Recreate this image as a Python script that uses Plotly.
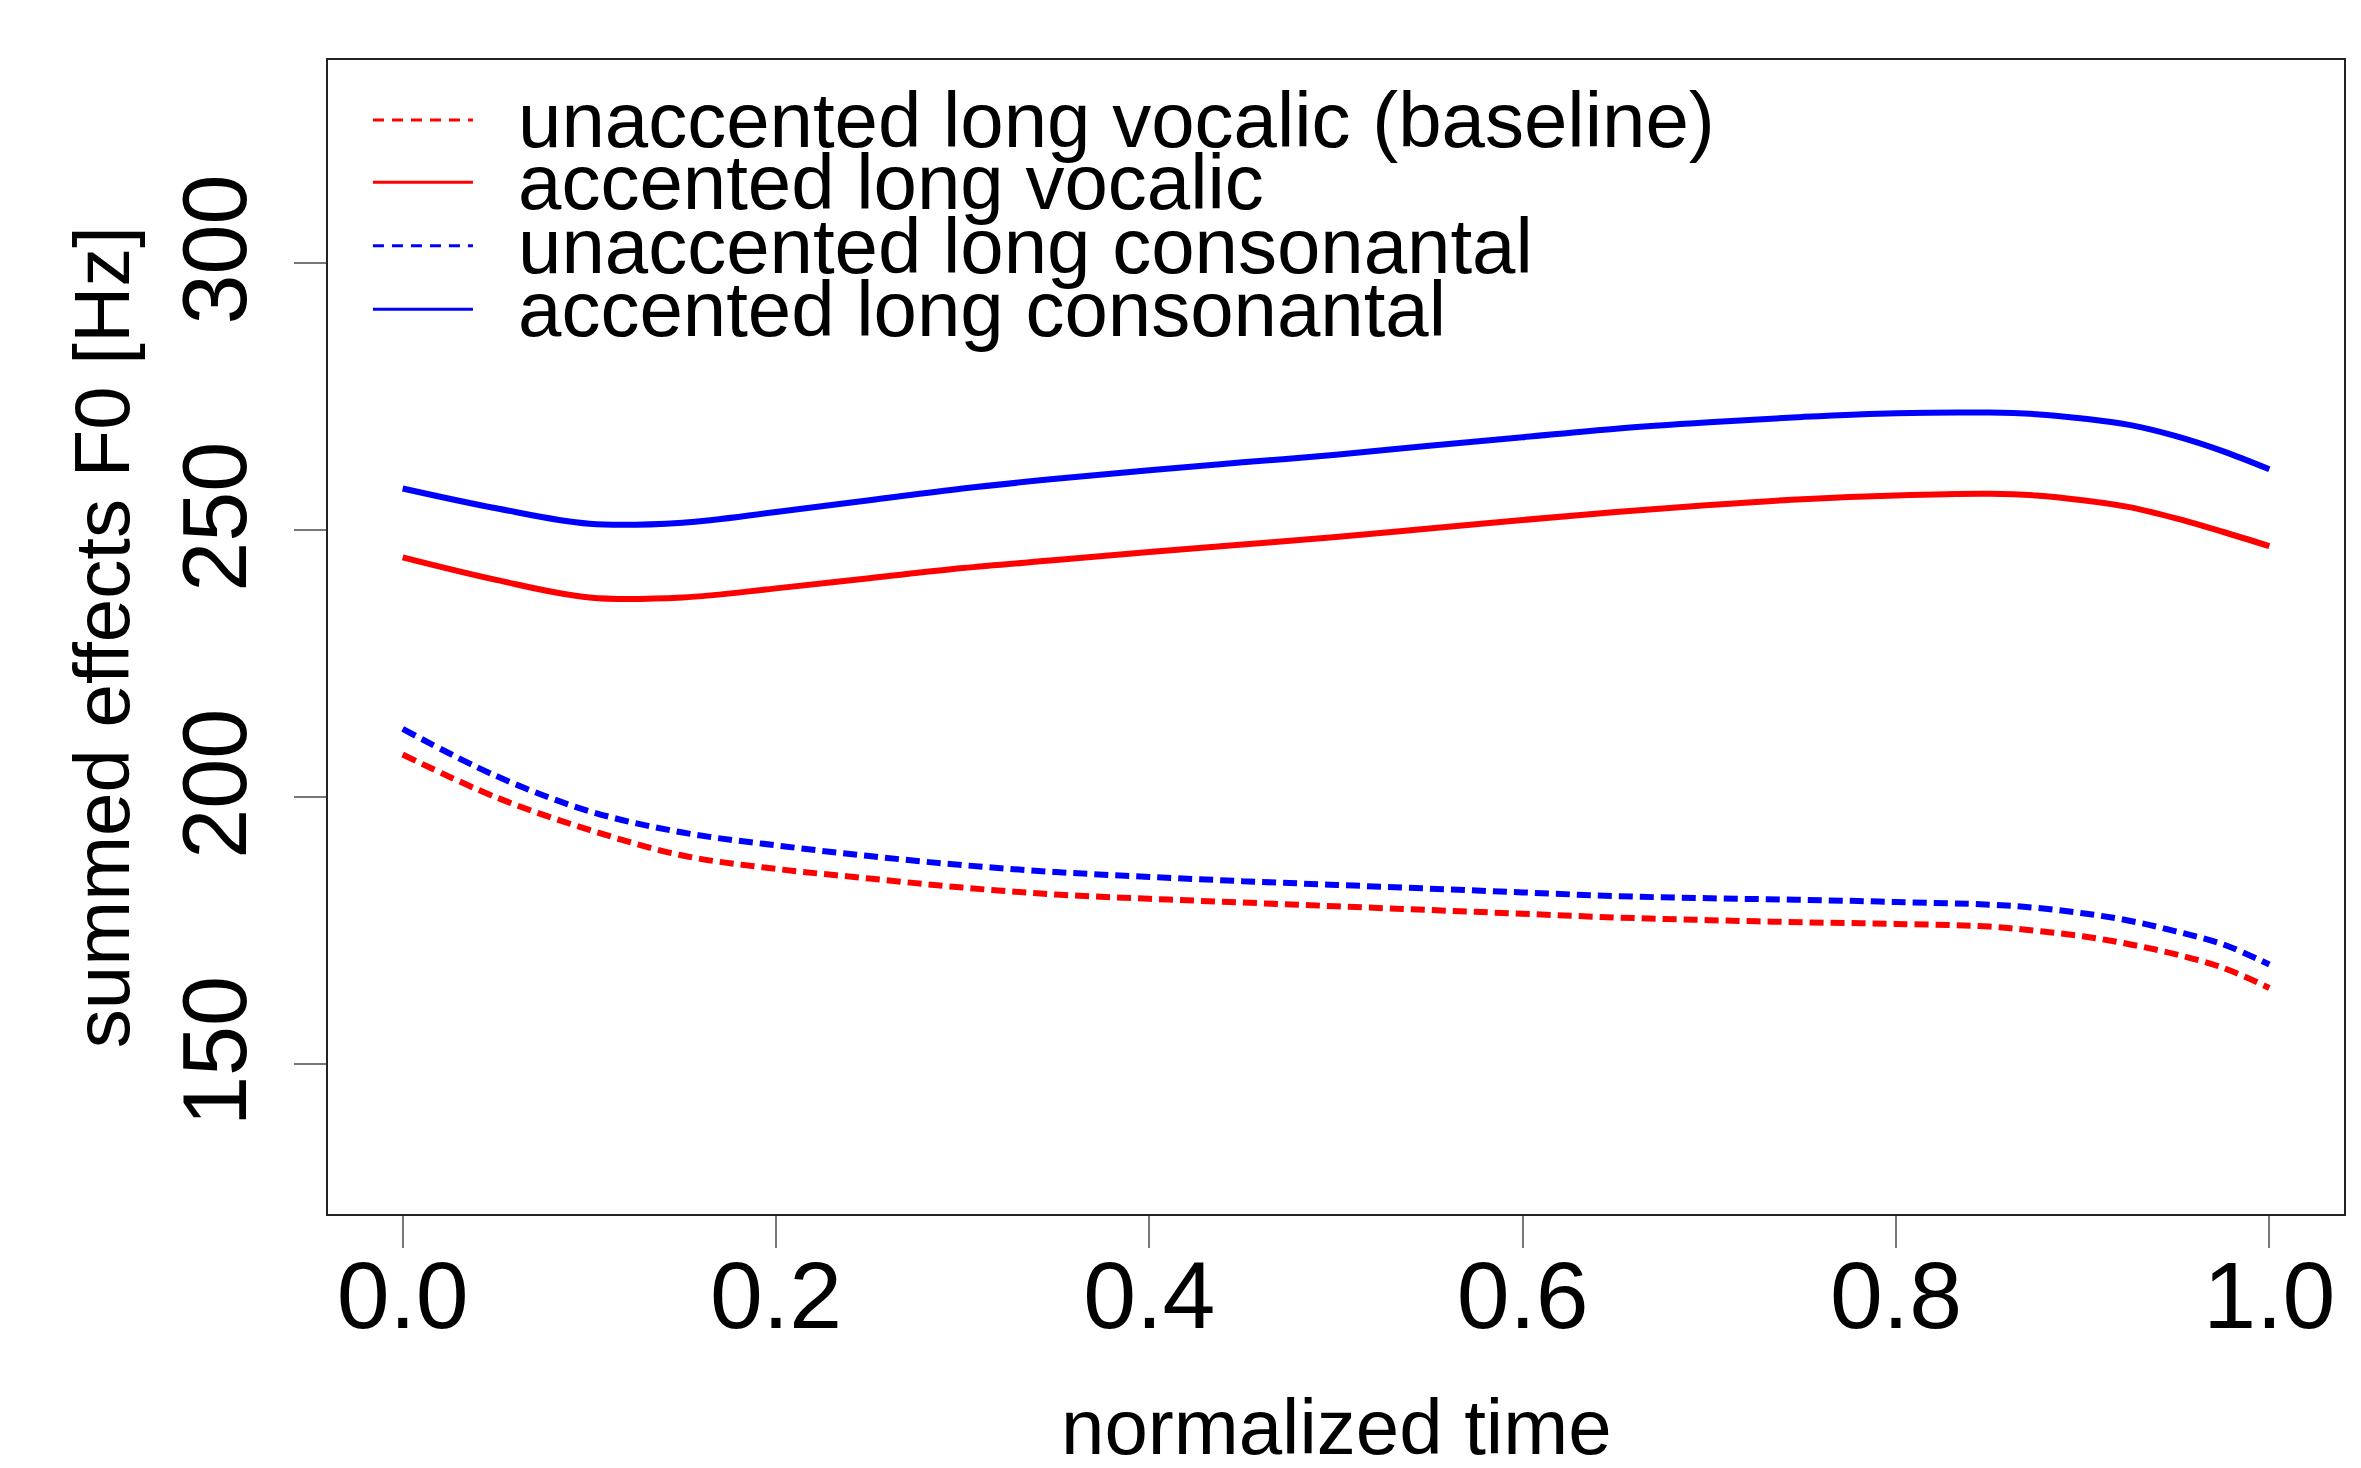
import plotly.graph_objects as go

# normalized time grid
t = [0.00, 0.05, 0.10, 0.15, 0.20, 0.25, 0.30, 0.35, 0.40, 0.45, 0.50,
     0.55, 0.60, 0.65, 0.70, 0.75, 0.80, 0.85, 0.875, 0.90, 0.925, 0.95, 0.975, 1.00]

# unaccented long vocalic (baseline) - red dashed
unacc_vocalic = [208.0, 200.0, 193.9, 189.1, 186.6, 184.8, 183.1, 181.8, 181.0, 180.3, 179.6,
                 178.9, 178.2, 177.5, 177.0, 176.6, 176.3, 175.8, 175.0, 174.0, 172.5, 170.6, 168.1, 164.3]
# accented long vocalic - red solid
acc_vocalic = [244.9, 240.7, 237.4, 237.4, 239.1, 241.0, 242.9, 244.4, 245.9, 247.3, 248.7,
               250.3, 251.9, 253.4, 254.7, 255.8, 256.5, 256.8, 256.5, 255.6, 254.3, 252.2, 249.7, 247.0]
# unaccented long consonantal - blue dashed
unacc_consonantal = [212.8, 204.0, 197.4, 193.4, 191.0, 189.0, 187.3, 186.0, 185.1, 184.3, 183.6,
                     182.9, 182.2, 181.5, 181.1, 180.8, 180.4, 179.9, 179.3, 178.3, 176.9, 174.9, 172.5, 168.7]
# accented long consonantal - blue solid
acc_consonantal = [257.8, 254.1, 251.2, 251.4, 253.4, 255.6, 257.8, 259.6, 261.2, 262.7, 264.1,
                   265.8, 267.4, 269.0, 270.2, 271.2, 271.9, 272.0, 271.7, 270.9, 269.7, 267.6, 264.8, 261.4]

series_names = ["unaccented long vocalic (baseline)", "accented long vocalic",
                "unaccented long consonantal", "accented long consonantal"]
series_values = [unacc_vocalic, acc_vocalic, unacc_consonantal, acc_consonantal]
series_colors = ["#FF0000", "#FF0000", "#0000FF", "#0000FF"]
series_dash = ["14px,7px", "solid", "14px,7px", "solid"]

x_ticks = [0.0, 0.2, 0.4, 0.6, 0.8, 1.0]
x_ticktext = ["0.0", "0.2", "0.4", "0.6", "0.8", "1.0"]
y_ticks = [150, 200, 250, 300]
y_ticktext = ["150", "200", "250", "300"]

FONT = "Liberation Sans, Arial, sans-serif"

fig = go.Figure()
for name, vals, col, dsh in zip(series_names, series_values, series_colors, series_dash):
    fig.add_trace(go.Scatter(x=t, y=vals, mode="lines", name=name, showlegend=False,
                             line=dict(color=col, width=6, dash=dsh, shape="spline", smoothing=1.0)))

# manual legend (R-style, tight line spacing)
leg_y = [0.948, 0.894, 0.839, 0.784]
leg_dash = ["11px,8px", "solid", "11px,8px", "solid"]
for yy, name, col, dsh in zip(leg_y, series_names, series_colors, leg_dash):
    fig.add_shape(type="line", xref="paper", yref="paper", x0=0.0223, x1=0.0719, y0=yy, y1=yy,
                  line=dict(color=col, width=3, dash=dsh))
    fig.add_annotation(xref="paper", yref="paper", x=0.0935, y=yy, text=name, showarrow=False,
                       xanchor="left", yanchor="middle", font=dict(family=FONT, size=78, color="black"))

# axis titles
fig.add_annotation(xref="paper", yref="paper", x=0.5, y=-0.185, text="normalized time",
                   showarrow=False, xanchor="center", yanchor="middle",
                   font=dict(family=FONT, size=78, color="black"))
fig.add_annotation(xref="paper", yref="paper", x=-0.112, y=0.5, text="summed effects F0 [Hz]",
                   showarrow=False, xanchor="center", yanchor="middle", textangle=-90,
                   font=dict(family=FONT, size=78, color="black"))

fig.update_layout(
    width=2345, height=1452, autosize=False,
    margin=dict(l=320, r=9, t=52, b=246, autoexpand=False),
    paper_bgcolor="white", plot_bgcolor="white",
    font=dict(family=FONT, color="black"),
    xaxis=dict(range=[-0.04, 1.04], tickmode="array", tickvals=x_ticks, ticktext=x_ticktext,
               ticks="outside", ticklen=32, tickwidth=2, tickcolor="#777777",
               showline=True, linecolor="#222222", linewidth=2, mirror=True, automargin=False,
               showgrid=False, zeroline=False, tickfont=dict(family=FONT, size=95),
               ticklabelstandoff=-34),
    yaxis=dict(range=[122, 338], tickmode="array", tickvals=y_ticks, ticktext=y_ticktext,
               ticks="outside", ticklen=32, tickwidth=2, tickcolor="#777777", tickangle=-90,
               showline=True, linecolor="#222222", linewidth=2, mirror=True, automargin=False,
               showgrid=False, zeroline=False, tickfont=dict(family=FONT, size=90),
               ticklabelstandoff=12),
)

fig.write_html("out.html")
